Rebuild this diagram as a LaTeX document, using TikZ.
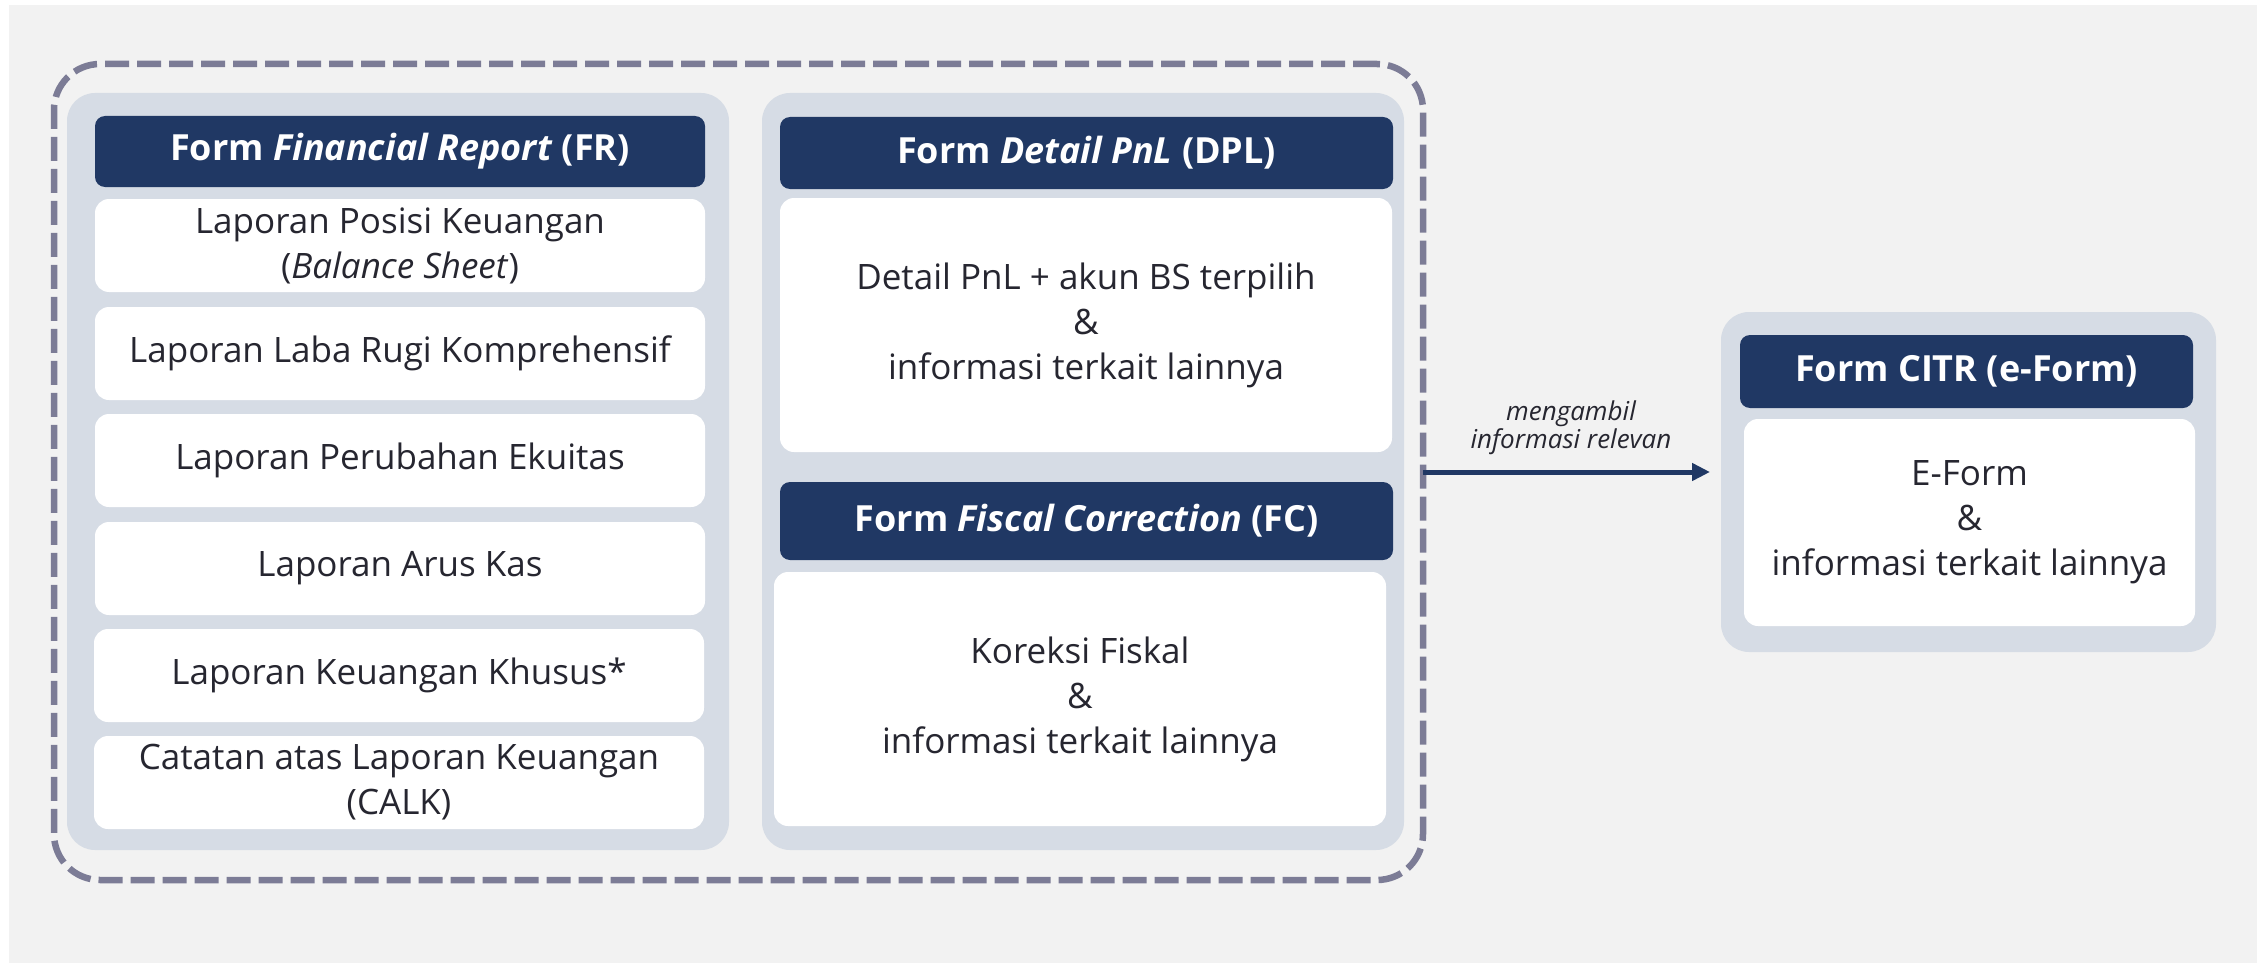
\documentclass[tikz,border=0pt]{standalone}
\usepackage{fontspec}
\setmainfont{Open Sans}
\usetikzlibrary{arrows.meta}
\definecolor{bggray}{HTML}{F2F2F2}
\definecolor{dashc}{RGB}{124,124,150}
\definecolor{panelc}{HTML}{D6DCE5}
\definecolor{navy}{HTML}{203864}
\definecolor{txt}{RGB}{38,38,48}
\tikzset{
  box/.style={anchor=north west, inner sep=0pt, outer sep=0pt, align=center},
  panel/.style={box, fill=panelc, rounded corners=28pt},
  head/.style={box, fill=navy, rounded corners=10pt, text=white,
    font=\fontsize{36}{42}\selectfont\bfseries},
  item/.style={box, fill=white, rounded corners=14pt, text=txt,
    font=\fontsize{35}{45}\selectfont},
  dashbox/.style={box, draw=dashc, line width=6.5pt, dash pattern=on 24pt off 8pt, rounded corners=46pt},
  conn/.style={draw=navy, line width=5pt, -{Triangle[length=18pt,width=17pt]}},
  lbl/.style={inner sep=0pt, align=center, text=txt, font=\fontsize{26}{28}\selectfont\itshape}
}
\begin{document}
\begin{tikzpicture}[x=1pt,y=-1pt]
\useasboundingbox (0,0) rectangle (2260,963);
\fill[white] (0,0) rectangle (2260,963);
\fill[bggray] (9,5) rectangle (2257,963);
% outer dashed group
\node[dashbox, minimum width=1369pt, minimum height=816pt] (outer) at (54,64) {};
% left panel
\node[panel, minimum width=662pt, minimum height=757pt] (frp) at (67,93) {};
\node[head, minimum width=610pt, minimum height=71pt] (frh) at (95,116) {Form \textit{Financial Report} (FR)};
\node[item, minimum width=610pt, minimum height=93pt] (fr1) at (95,199) {Laporan Posisi Keuangan\\(\textit{Balance Sheet})};
\node[item, minimum width=610pt, minimum height=93pt] (fr2) at (95,307) {Laporan Laba Rugi Komprehensif};
\node[item, minimum width=610pt, minimum height=93pt] (fr3) at (95,414) {Laporan Perubahan Ekuitas};
\node[item, minimum width=610pt, minimum height=93pt] (fr4) at (95,522) {Laporan Arus Kas};
\node[item, minimum width=610pt, minimum height=93pt] (fr5) at (94,629) {Laporan Keuangan Khusus*};
\node[item, minimum width=610pt, minimum height=93pt] (fr6) at (94,736) {Catatan atas Laporan Keuangan\\(CALK)};
% middle panel
\node[panel, minimum width=642pt, minimum height=757pt] (midp) at (762,93) {};
\node[head, minimum width=613pt, minimum height=72pt] (dplh) at (780,117) {Form \textit{Detail PnL} (DPL)};
\node[item, minimum width=612pt, minimum height=254pt] (dplb) at (780,198) {Detail PnL + akun BS terpilih\\\&\\informasi terkait lainnya};
\node[head, minimum width=613pt, minimum height=78pt] (fch) at (780,482) {Form \textit{Fiscal Correction} (FC)};
\node[item, minimum width=612pt, minimum height=254pt] (fcb) at (774,572) {Koreksi Fiskal\\\&\\informasi terkait lainnya};
% right panel
\node[panel, minimum width=495pt, minimum height=340pt] (citrp) at (1721,312) {};
\node[head, minimum width=453pt, minimum height=73pt] (citrh) at (1740,335) {Form CITR (e-Form)};
\node[item, minimum width=451pt, minimum height=207pt] (citrb) at (1744,419) {E-Form\\\&\\informasi terkait lainnya};
% connector
\draw[conn, shorten >=11pt] (outer.east) -- (outer.east -| citrp.west);
\node[lbl] (lab) at (1571,428) {mengambil\\informasi relevan};
\end{tikzpicture}
\end{document}
